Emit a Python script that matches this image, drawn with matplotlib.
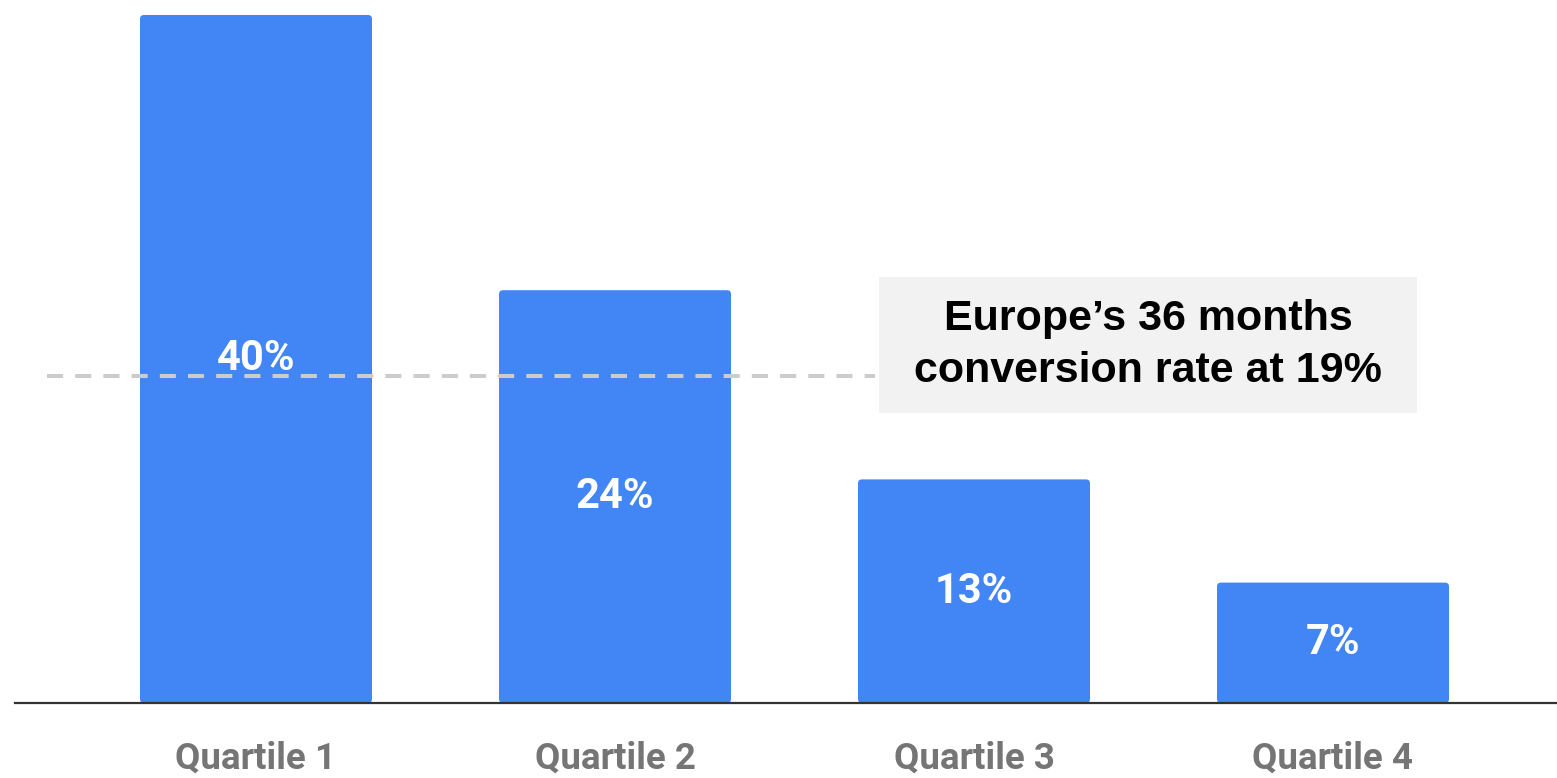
import matplotlib
matplotlib.use("Agg")
import matplotlib.pyplot as plt
from matplotlib.patches import Rectangle, FancyBboxPatch
from matplotlib import transforms

# Data
categories = ["Quartile 1", "Quartile 2", "Quartile 3", "Quartile 4"]
conversion = [40, 24, 13, 7]
value_labels = ["40%", "24%", "13%", "7%"]
europe_rate = 19
note_text = "Europe\u2019s 36 months\nconversion rate at 19%"

BAR_COLOR = "#4285F4"
LABEL_GRAY = "#757575"

W, H = 1557, 778
fig = plt.figure(figsize=(W / 100, H / 100), dpi=100)
fig.patch.set_facecolor("white")

base_px = 703
ax = fig.add_axes([0, (H - base_px) / H, 1, base_px / H])
px_per_unit = 17.2
ax.set_ylim(0, base_px / px_per_unit)
spacing = 359.0
first_center = 256.0
ax.set_xlim(-first_center / spacing, (W - first_center) / spacing)
ax.axis("off")

x = list(range(len(categories)))
bars = ax.bar(x, conversion, width=232 / spacing, color=BAR_COLOR, zorder=2)

# Give the bars slightly rounded corners
radius = 4 / spacing
for b in bars:
    rounded = FancyBboxPatch((b.get_x(), b.get_y()), b.get_width(), b.get_height(),
                             boxstyle=f"round,pad=0,rounding_size={radius}",
                             mutation_aspect=spacing / px_per_unit,
                             facecolor=BAR_COLOR, edgecolor="none", zorder=2)
    ax.add_patch(rounded)
    b.set_visible(False)

# Values inside bars
for xi, v, lab in zip(x, conversion, value_labels):
    ax.text(xi, v / 2, lab, ha="center", va="center", color="white",
            fontsize=30, fontweight="bold", family="Roboto", zorder=4)

# Baseline
ax.axhline(0, xmin=15 / W, xmax=1, color="#333333", lw=1.6, zorder=5,
           clip_on=False)

# Europe reference line
ax.plot([(47 - first_center) / spacing, (875 - first_center) / spacing],
        [europe_rate, europe_rate], color="#cccccc", lw=2.9,
        dashes=(4, 3), zorder=3, solid_capstyle="butt", dash_capstyle="butt")

# Note box
bx0 = (879 - first_center) / spacing
bx1 = (1417 - first_center) / spacing
by0 = (base_px - 413) / px_per_unit
by1 = (base_px - 277) / px_per_unit
ax.add_patch(Rectangle((bx0, by0), bx1 - bx0, by1 - by0,
                       facecolor="#f2f2f2", edgecolor="none", zorder=3))
ax.text((bx0 + bx1) / 2, (by0 + by1) / 2, note_text, ha="center",
        va="center", multialignment="center", fontsize=31,
        fontweight="bold", family="Liberation Sans", color="black",
        linespacing=1.4, zorder=4)

# Category labels beneath the axis
trans = transforms.blended_transform_factory(ax.transData, fig.transFigure)
for xi, cat in zip(x, categories):
    ax.text(xi, 1 - 759 / H, cat, transform=trans, ha="center", va="center",
            color=LABEL_GRAY, fontsize=26.5, fontweight="bold",
            family="Roboto", clip_on=False)

fig.savefig("out.png", dpi=100, facecolor="white")
